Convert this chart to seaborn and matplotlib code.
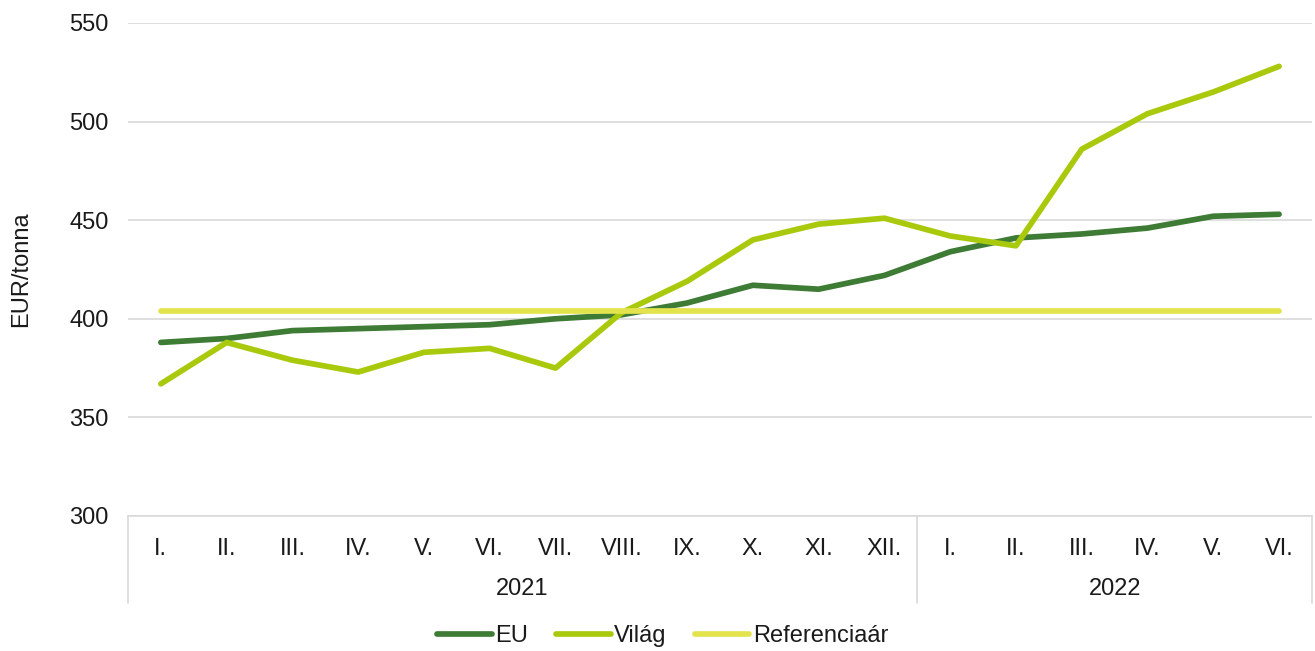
import matplotlib
matplotlib.use("Agg")
import matplotlib.pyplot as plt
import matplotlib.transforms as mtransforms
import seaborn as sns
import pandas as pd

# data
MONTHS = ["I.", "II.", "III.", "IV.", "V.", "VI.", "VII.", "VIII.", "IX.", "X.", "XI.", "XII.",
          "I.", "II.", "III.", "IV.", "V.", "VI."]
YEARS = ["2021", "2022"]
YEAR_SPANS = [(0, 12), (12, 18)]
EU = [388, 390, 394, 395, 396, 397, 400, 402, 408, 417, 415, 422, 434, 441, 443, 446, 452, 453]
VILAG = [367, 388, 379, 373, 383, 385, 375, 403, 419, 440, 448, 451, 442, 437, 486, 504, 515, 528]
REFERENCIA = [404] * 18

COLORS = {"EU": "#3E7B35", "Világ": "#A9C90C", "Referenciaár": "#E3E34E"}
FONT_SIZE = 17
TEXT_COLOR = "#1a1a1a"
LW = 4.1

sns.set_style("white")
plt.rcParams["font.family"] = ["Liberation Sans", "DejaVu Sans"]
plt.rcParams["font.size"] = FONT_SIZE
plt.rcParams["text.color"] = TEXT_COLOR

rows = []
for name, vals in [("EU", EU), ("Világ", VILAG), ("Referenciaár", REFERENCIA)]:
    for i, v in enumerate(vals):
        rows.append({"pos": i, "value": v, "series": name})
df = pd.DataFrame(rows)

fig = plt.figure(figsize=(13.15, 6.51), dpi=100)
ax = fig.add_axes([0.0973, 0.2074, 0.9004, 0.7573])

sns.lineplot(data=df, x="pos", y="value", hue="series", palette=COLORS, ax=ax,
             linewidth=LW, legend=False, solid_capstyle="round", zorder=3)

ax.set_xlim(-0.5, 17.5)
ax.set_ylim(300, 550)
ax.set_yticks(range(300, 551, 50))
ax.yaxis.grid(True, color="#D9D9D9", linewidth=1.2)
ax.set_axisbelow(True)
for s in ["top", "right", "left"]:
    ax.spines[s].set_visible(False)
ax.spines["bottom"].set_color("#D9D9D9")
ax.spines["bottom"].set_linewidth(1.2)
ax.tick_params(axis="y", length=0, pad=14, labelsize=FONT_SIZE, labelcolor=TEXT_COLOR)
ax.set_xticks([])
ax.set_xlabel("")
ax.set_ylabel("EUR/tonna", fontsize=FONT_SIZE, labelpad=27, color=TEXT_COLOR)

# multi-level category axis
trans = mtransforms.blended_transform_factory(ax.transData, ax.transAxes)
for i, m in enumerate(MONTHS):
    ax.text(i, -0.066, m, transform=trans, ha="center", va="center", fontsize=FONT_SIZE)
for yr, (a, b) in zip(YEARS, YEAR_SPANS):
    ax.text((a + b - 1) / 2, -0.148, yr, transform=trans, ha="center", va="center", fontsize=FONT_SIZE)
for xb in [-0.5, 11.5, 17.5]:
    ax.plot([xb, xb], [0, -0.176], transform=trans, color="#D9D9D9", linewidth=1.2, clip_on=False)

handles = [plt.Line2D([], [], color=c, linewidth=LW, solid_capstyle="round") for c in COLORS.values()]
fig.legend(handles, list(COLORS.keys()), loc="center", bbox_to_anchor=(0.504, 0.023), ncol=3,
           frameon=False, fontsize=FONT_SIZE, handlelength=2.3, handletextpad=0.15, columnspacing=1.2)

fig.savefig("out.png", dpi=100)
